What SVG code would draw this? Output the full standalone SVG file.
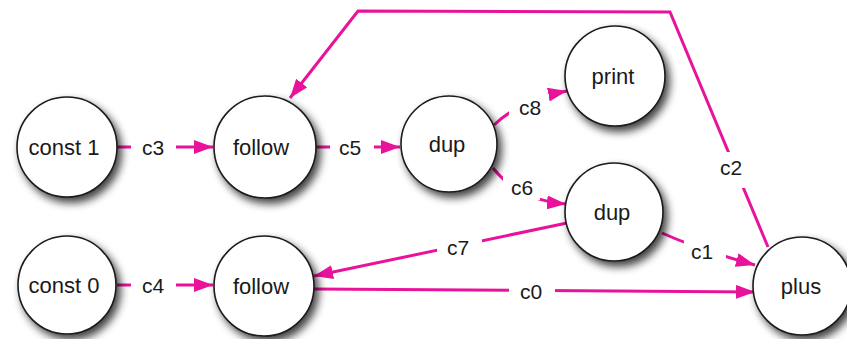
<svg xmlns="http://www.w3.org/2000/svg" width="847" height="339" viewBox="0 0 847 339">
<defs>
<filter id="sh" x="-30%" y="-30%" width="170%" height="170%">
<feGaussianBlur in="SourceAlpha" stdDeviation="4"/>
<feOffset dx="4" dy="5" result="b"/>
<feComponentTransfer><feFuncA type="linear" slope="0.75"/></feComponentTransfer>
<feMerge><feMergeNode/><feMergeNode in="SourceGraphic"/></feMerge>
</filter>
<marker id="ah" markerUnits="userSpaceOnUse" markerWidth="20" markerHeight="14" refX="19" refY="7" orient="auto">
<path d="M0,0 L19,7 L0,14 Z" fill="#e8139a"/>
</marker>
<style>
.n circle{fill:#fff;stroke:#1a1a1a;stroke-width:1.6;filter:url(#sh)}
.n text{font-family:"Liberation Sans",Arial,Helvetica,sans-serif;font-size:22px;fill:#1a1a1a;text-anchor:middle}
.e path{fill:none;stroke:#e8139a;stroke-width:3}
.e .a{marker-end:url(#ah)}
.e rect{fill:#fff}
.e text{font-family:"Liberation Sans",Arial,Helvetica,sans-serif;font-size:21px;fill:#1a1a1a;text-anchor:middle}
</style>
</defs>
<rect width="847" height="339" fill="#fff"/>
<g id="edges" class="e">
<path class="a" d="M117,147 L213,147"/>
<rect x="131" y="136" width="45" height="22"/>
<text x="153" y="155">c3</text>
<path class="a" d="M316,147 L400,147"/>
<rect x="330" y="136" width="44" height="22"/>
<text x="350" y="155">c5</text>
<path class="a" d="M117,285 L213,285"/>
<rect x="131" y="274" width="45" height="22"/>
<text x="153" y="293">c4</text>
<path class="a" d="M494,125 Q520,100 567,91"/>
<rect x="509" y="94" width="40" height="26"/>
<text x="530" y="115">c8</text>
<path class="a" d="M493,168 Q518,200 566,204"/>
<rect x="503" y="175" width="37" height="25"/>
<text x="522" y="195">c6</text>
<path class="a" d="M567,223 L314,276"/>
<rect x="437" y="234" width="45" height="24"/>
<text x="458" y="255">c7</text>
<path class="a" d="M662,233 Q700,250 755,265"/>
<rect x="684" y="238" width="42" height="24"/>
<text x="702" y="259">c1</text>
<path class="a" d="M313,289 L755,292"/>
<rect x="509" y="280" width="46" height="22"/>
<text x="531" y="299">c0</text>
<path class="a" d="M768,247 L670,12 L358,11 L290,98"/>
<rect x="714" y="152" width="36" height="36"/>
<text x="731" y="175">c2</text>
</g>
<g id="const1" class="n"><circle cx="67" cy="147" r="50"/><text x="64" y="155">const 1</text></g>
<g id="follow1" class="n"><circle cx="265" cy="147" r="51"/><text x="261" y="155">follow</text></g>
<g id="dup1" class="n"><circle cx="449" cy="144" r="48"/><text x="447" y="152">dup</text></g>
<g id="print" class="n"><circle cx="615" cy="76" r="50"/><text x="613" y="84">print</text></g>
<g id="dup2" class="n"><circle cx="614" cy="212" r="49"/><text x="612" y="220">dup</text></g>
<g id="const0" class="n"><circle cx="67" cy="285" r="49"/><text x="64" y="293">const 0</text></g>
<g id="follow2" class="n"><circle cx="264" cy="286" r="50"/><text x="261" y="294">follow</text></g>
<g id="plus" class="n"><circle cx="802" cy="286" r="49"/><text x="801" y="294">plus</text></g>
</svg>
